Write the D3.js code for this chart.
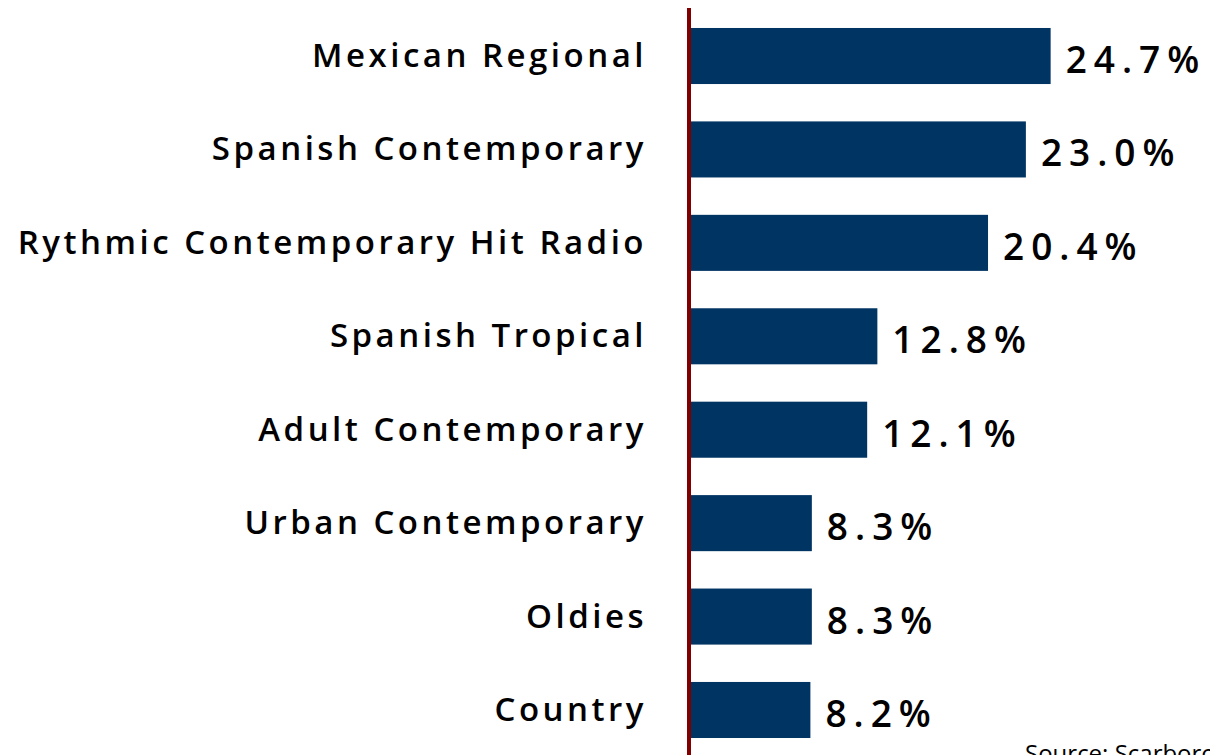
<!DOCTYPE html>
<html>
<head>
<meta charset="utf-8">
<script src="https://cdn.jsdelivr.net/npm/d3@7"></script>
<style>
  html, body { margin: 0; padding: 0; background: #fff; }
  #bar-chart-d3 text { font-family: "Open Sans", Lato, sans-serif; }
</style>
</head>
<body>
<div id="bar-chart-d3"></div>
<script>
// formats, shares in percent
var categories = ["Mexican Regional", "Spanish Contemporary", "Rythmic Contemporary Hit Radio",
                  "Spanish Tropical", "Adult Contemporary", "Urban Contemporary", "Oldies", "Country"];
var values = [24.7, 23.0, 20.4, 12.8, 12.1, 8.3, 8.3, 8.2];
var sourceNote = "Source: Scarborough Research";

var width = 1210, height = 755;
var axisX = 689;

var svg = d3.select("#bar-chart-d3").append("svg")
    .attr("width", width)
    .attr("height", height);

var data = categories.map(function(c, i) { return {name: c, value: values[i]}; });

// x: 14.57px per percentage point
var x = d3.scaleLinear()
    .domain([0, 25])
    .range([axisX + 2, axisX + 2 + 364]);

var y = d3.scaleBand()
    .domain(categories)
    .range([9.3, 756.7])
    .paddingInner(0.4)
    .paddingOuter(0.2);

svg.selectAll("rect.bar").data(data).enter()
  .append("rect")
    .attr("class", "bar")
    .attr("x", x(0))
    .attr("y", function(d) { return y(d.name); })
    .attr("width", function(d) { return x(d.value) - x(0); })
    .attr("height", y.bandwidth())
    .style("fill", "#003463");

// category labels
svg.selectAll("text.cat").data(data).enter()
  .append("text")
    .attr("class", "cat")
    .attr("x", 647)
    .attr("y", function(d) { return y(d.name) + y.bandwidth() / 2 + 11; })
    .attr("text-anchor", "end")
    .style("font-size", "33px")
    .style("font-weight", "600")
    .style("letter-spacing", "3.5px")
    .style("fill", "#000")
    .text(function(d) { return d.name; });

// value labels
svg.selectAll("text.val").data(data).enter()
  .append("text")
    .attr("class", "val")
    .attr("x", function(d) { return x(d.value) + 15; })
    .attr("y", function(d) { return y(d.name) + y.bandwidth() / 2 + 17; })
    .style("font-size", "37px")
    .style("font-weight", "600")
    .style("letter-spacing", "7px")
    .style("fill", "#000")
    .text(function(d) { return d.value.toFixed(1) + "%"; });

// vertical axis line
svg.append("line")
    .attr("x1", axisX).attr("x2", axisX)
    .attr("y1", 8).attr("y2", height)
    .attr("stroke", "#800000")
    .attr("stroke-width", 4);

svg.append("text")
    .attr("x", 1025)
    .attr("y", 762)
    .style("font-size", "24px")
    .style("fill", "#000")
    .text(sourceNote);
</script>
</body>
</html>
